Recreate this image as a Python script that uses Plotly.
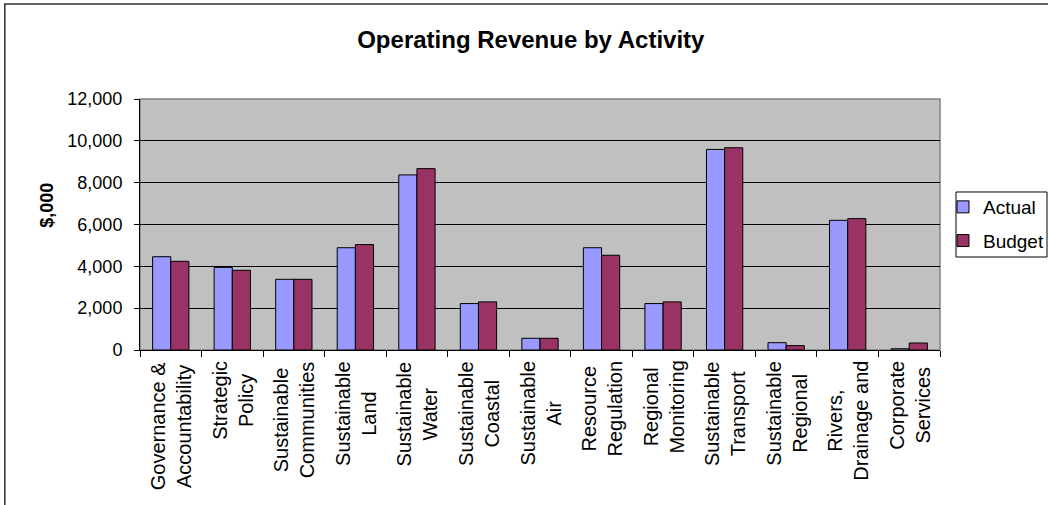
import plotly.graph_objects as go

categories = [
    "Governance & Accountability", "Strategic Policy", "Sustainable Communities",
    "Sustainable Land", "Sustainable Water", "Sustainable Coastal", "Sustainable Air",
    "Resource Regulation", "Regional Monitoring", "Sustainable Transport",
    "Sustainable Regional", "Rivers, Drainage and", "Corporate Services",
]
tick_labels = [
    "Governance &<br>Accountability", "Strategic<br>Policy", "Sustainable<br>Communities",
    "Sustainable<br>Land", "Sustainable<br>Water", "Sustainable<br>Coastal", "Sustainable<br>Air",
    "Resource<br>Regulation", "Regional<br>Monitoring", "Sustainable<br>Transport",
    "Sustainable<br>Regional", "Rivers,<br>Drainage and", "Corporate<br>Services",
]
actual = [4460, 3950, 3380, 4890, 8370, 2220, 560, 4890, 2220, 9590, 350, 6200, 60]
budget = [4240, 3810, 3380, 5040, 8670, 2300, 560, 4530, 2300, 9670, 210, 6280, 335]
y_ticks = [0, 2000, 4000, 6000, 8000, 10000, 12000]

FONT = "Arial, Liberation Sans, sans-serif"

fig = go.Figure()
fig.add_trace(go.Bar(x=categories, y=actual, name="Actual", legendgroup="a",
                     marker=dict(color="#9999FF", line=dict(color="black", width=1))))
fig.add_trace(go.Bar(x=categories, y=budget, name="Budget", legendgroup="b",
                     marker=dict(color="#993366", line=dict(color="black", width=1))))

annotations = []
for c, lab in zip(categories, tick_labels):
    annotations.append(dict(x=c, xref="x", y=0, yref="paper", yanchor="top", xanchor="center",
                            yshift=-9, text=lab, textangle=-90, align="center", showarrow=False,
                            font=dict(family=FONT, size=20, color="black")))
# y-axis title
annotations.append(dict(x=-0.11625, xref="paper", y=0.575, yref="paper", xanchor="center",
                        yanchor="middle", text="<b>$,000</b>", textangle=-90, showarrow=False,
                        font=dict(family=FONT, size=18, color="black")))

shapes = [
    # outer chart-area border (partly clipped by the page, as in the original)
    dict(type="rect", xref="paper", yref="paper", x0=-0.169, x1=1.3, y0=-1.0, y1=1.378,
         line=dict(color="#303030", width=1.5), fillcolor="rgba(0,0,0,0)", layer="below"),
    # plot-area border (grey)
    dict(type="rect", xref="paper", yref="paper", x0=0, x1=1, y0=0, y1=1,
         line=dict(color="#808080", width=1.5), fillcolor="rgba(0,0,0,0)", layer="below"),
    # legend box
    dict(type="rect", xref="paper", yref="paper", x0=1.02, x1=1.13375, y0=0.3705, y1=0.6295,
         line=dict(color="black", width=1), fillcolor="white", layer="above"),
]

fig.update_layout(
    width=1048, height=505,
    margin=dict(l=140, r=108, t=99, b=155, autoexpand=False),
    paper_bgcolor="white", plot_bgcolor="#C0C0C0",
    barmode="group", bargap=0.41, bargroupgap=0,
    font=dict(family=FONT, size=18, color="black"),
    title=dict(text="<b>Operating Revenue by Activity</b>", x=0.5065, xanchor="center",
               y=0.921, yanchor="middle", font=dict(family=FONT, size=24, color="black")),
    xaxis=dict(type="category", showticklabels=False, ticks="outside", tickson="boundaries",
               ticklen=6, tickcolor="black", showline=True, linecolor="black", linewidth=1,
               showgrid=False),
    yaxis=dict(range=[0, 12000], tickvals=y_ticks, tickformat=",", ticks="outside", ticklen=5,
               tickcolor="black", showline=True, linecolor="black", linewidth=1,
               showgrid=True, gridcolor="black", gridwidth=1, zeroline=False,
               ticklabelstandoff=8, tickfont=dict(family=FONT, size=18)),
    legend=dict(x=1.00375, xanchor="left", y=0.6454, yanchor="top", bgcolor="rgba(0,0,0,0)",
                borderwidth=0, traceorder="grouped", tracegroupgap=6,
                font=dict(family=FONT, size=19)),
    annotations=annotations,
    shapes=shapes,
)

fig.write_html("out.html")
